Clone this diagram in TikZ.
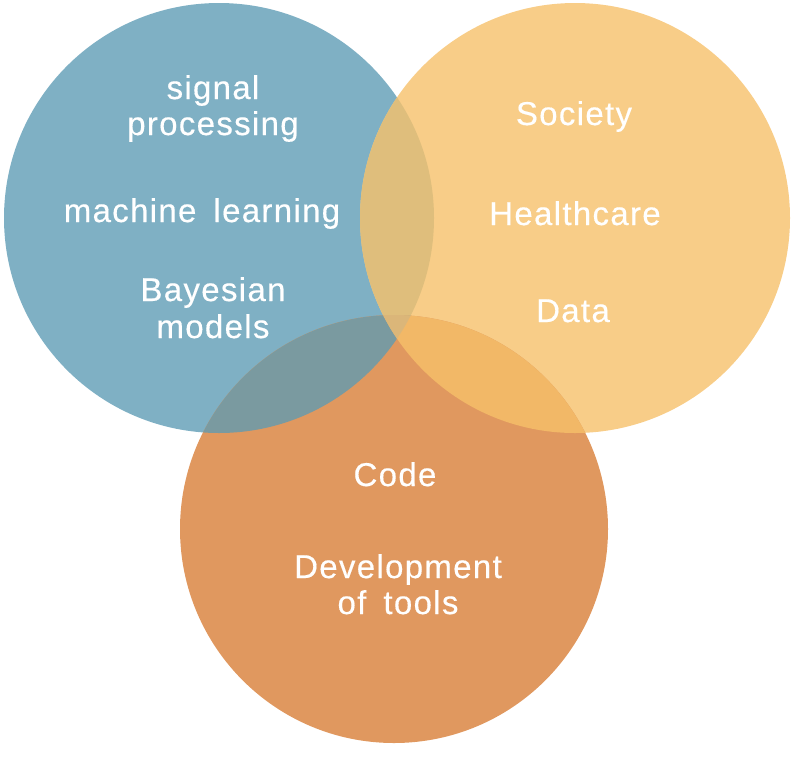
\documentclass[tikz,border=0pt]{standalone}
\usepackage{fontspec}
\setmainfont{Liberation Sans}[LetterSpace=4,FakeBold=0.4]
\definecolor{cblue}{HTML}{7FB0C4}
\definecolor{cyellow}{HTML}{F8CD88}
\definecolor{corange}{HTML}{E0985F}
\definecolor{cby}{HTML}{DFBE7C}
\definecolor{cbo}{HTML}{7A9AA0}
\definecolor{cyo}{HTML}{F2B867}
\definecolor{cbyo}{HTML}{DBB679}
\tikzset{
  lbl/.style={text=white, font=\fontsize{33}{38}\selectfont, anchor=base, inner sep=0pt},
}
\begin{document}
\begin{tikzpicture}[x=1pt,y=-1pt]
\useasboundingbox (0,0) rectangle (794,756);
\def\blue{(219,218) circle (215)}
\def\yel{(575,218) circle (215)}
\def\ora{(394,529) circle (214)}
\fill[cblue] \blue;
\fill[cyellow] \yel;
\fill[corange] \ora;
\begin{scope}
  \clip \blue;
  \fill[cby] \yel;
  \fill[cbo] \ora;
\end{scope}
\begin{scope}
  \clip \yel;
  \fill[cyo] \ora;
  \clip \blue;
  \fill[cbyo] \ora;
\end{scope}
\node[lbl] (sig) at (213,99) {signal};
\node[lbl] (proc) at (213,135) {processing};
\node[lbl] (ml) at (202,222) {machine\hspace{0.2em} learning};
\node[lbl] (bay) at (213,301) {Bayesian};
\node[lbl] (mod) at (213,338) {models};
\node[lbl] (soc) at (574,125) {Society};
\node[lbl] (hc) at (575,225) {Healthcare};
\node[lbl] (data) at (573,322) {Data};
\node[lbl] (code) at (395,486) {Code};
\node[lbl] (dev) at (398,578) {Development};
\node[lbl] (tools) at (398,614) {of\hspace{0.2em} tools};
\end{tikzpicture}
\end{document}
